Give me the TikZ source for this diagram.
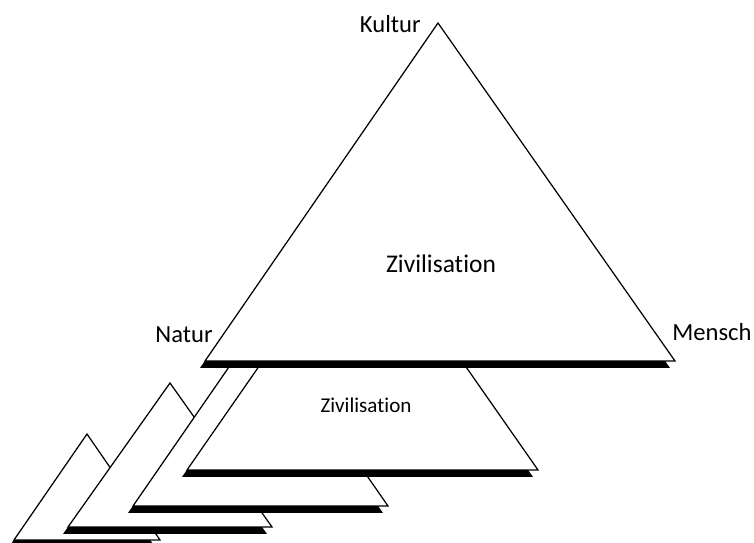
\documentclass[tikz,border=0pt]{standalone}
\usepackage{fontspec}
\setmainfont{Carlito}[Ligatures={NoCommon}]

\tikzset{
  layer/.style={draw=black,fill=white,line width=0.7pt,line join=miter},
  shade/.style={fill=black,transform canvas={shift={(-0.1cm,-0.14cm)}}},
  corner/.style={font=\fontsize{14}{16}\selectfont,inner sep=0pt},
  centre/.style={font=\fontsize{14.5}{17}\selectfont,inner sep=0pt},
  small/.style={font=\fontsize{12}{14}\selectfont,inner sep=0pt}
}

\begin{document}
\begin{tikzpicture}[x=0.02cm,y=-0.02cm]
            \useasboundingbox (0,0) rectangle (754,543);
            % corners of the five triangles, back to front
            \coordinate (e1) at (87,434);  \coordinate (e2) at (14,540);  \coordinate (e3) at (160,540);
            \coordinate (d1) at (170,383); \coordinate (d2) at (68,527);  \coordinate (d3) at (272,527);
            \coordinate (c1) at (260,322); \coordinate (c2) at (133,506); \coordinate (c3) at (388,506);
            \coordinate (b1) at (362,218); \coordinate (b2) at (187,470); \coordinate (b3) at (538,470);
            \coordinate (a1) at (438,23);  \coordinate (a2) at (205,361); \coordinate (a3) at (675,361);
            \fill[shade] (e1) -- (e2) -- (e3) -- cycle;
            \draw[layer] (e1) -- (e2) -- (e3) -- cycle;
            \fill[shade] (d1) -- (d2) -- (d3) -- cycle;
            \draw[layer] (d1) -- (d2) -- (d3) -- cycle;
            \fill[shade] (c1) -- (c2) -- (c3) -- cycle;
            \draw[layer] (c1) -- (c2) -- (c3) -- cycle;
            \fill[shade] (b1) -- (b2) -- (b3) -- cycle;
            \draw[layer] (b1) -- (b2) -- (b3) -- cycle;
            \fill[shade] (a1) -- (a2) -- (a3) -- cycle;
            \draw[layer] (a1) -- (a2) -- (a3) -- cycle;
            % labels
            \node (kultur) at (421,24) [corner,anchor=east] {Kultur};
            \node (natur) at (213,335) [corner,anchor=east] {Natur};
            \node (mensch) at (672,332) [corner,anchor=west] {Mensch};
            \node (ziv) at (441,264) [centre] {Zivilisation};
            \node (zivsmall) at (366,405) [small] {Zivilisation};
        \end{tikzpicture}
\end{document}
